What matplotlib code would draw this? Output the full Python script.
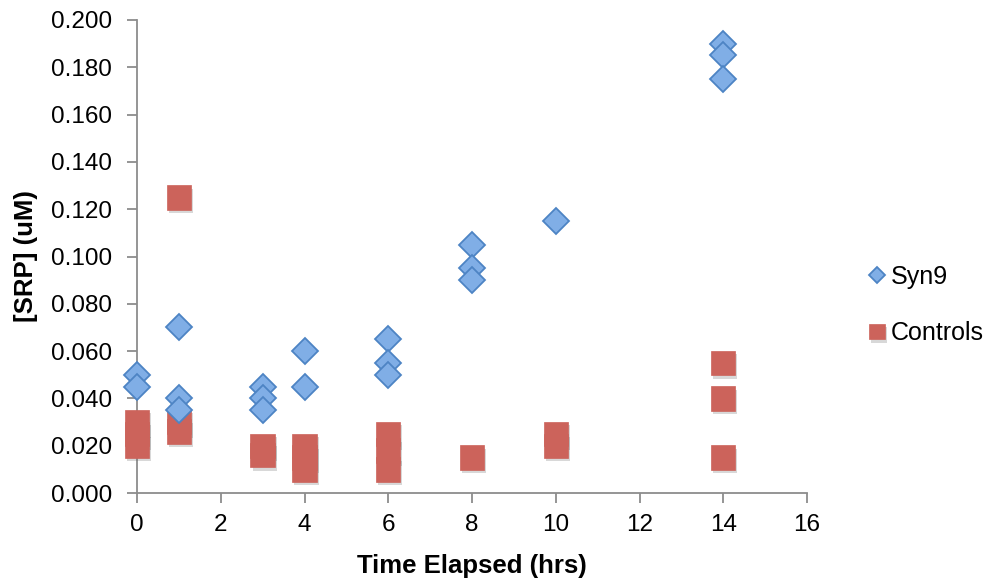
import matplotlib
matplotlib.use("Agg")
import matplotlib.pyplot as plt
import matplotlib.patheffects as pe
from matplotlib.ticker import FormatStrFormatter, MultipleLocator

plt.rcParams['font.family'] = ['Liberation Sans', 'DejaVu Sans']

# Syn9 measurements (time in hrs, SRP in uM)
syn9_time = [0, 0, 1, 1, 1, 3, 3, 3, 4, 4, 6, 6, 6, 8, 8, 8, 10, 14, 14, 14]
syn9_srp = [0.050, 0.045, 0.070, 0.040, 0.035, 0.045, 0.040, 0.035, 0.060, 0.045,
            0.065, 0.055, 0.050, 0.105, 0.095, 0.090, 0.115, 0.190, 0.185, 0.175]

# Control measurements
ctrl_time = [0, 0, 0, 1, 1, 1, 3, 3, 4, 4, 4, 6, 6, 6, 8, 10, 10, 14, 14, 14]
ctrl_srp = [0.030, 0.025, 0.020, 0.125, 0.030, 0.026, 0.020, 0.016, 0.020, 0.015, 0.010,
            0.025, 0.018, 0.010, 0.015, 0.025, 0.020, 0.055, 0.040, 0.015]

fig = plt.figure(figsize=(9.92, 5.84), dpi=100)
ax = fig.add_axes([137 / 992, 1 - 493 / 584, (807 - 137) / 992, (493 - 20) / 584])

shadow = [pe.SimplePatchShadow(offset=(1.5, -2.5), shadow_rgbFace='#666666', alpha=0.25), pe.Normal()]

ax.plot(ctrl_time, ctrl_srp, linestyle='none', marker='s', markersize=17.5,
        markerfacecolor='#CC635B', markeredgecolor='#CC635B', markeredgewidth=0.5,
        label='Controls', zorder=3, path_effects=shadow, clip_on=False)
ax.plot(syn9_time, syn9_srp, linestyle='none', marker='D', markersize=13.2,
        markerfacecolor='#80AEE6', markeredgecolor='#4D84C4', markeredgewidth=1.3,
        label='Syn9', zorder=4, clip_on=False)

ax.set_xlim(0, 16)
ax.set_ylim(0, 0.2)
ax.xaxis.set_major_locator(MultipleLocator(2))
ax.yaxis.set_major_locator(MultipleLocator(0.02))
ax.yaxis.set_major_formatter(FormatStrFormatter('%.3f'))

for side in ('top', 'right'):
    ax.spines[side].set_visible(False)
for side in ('left', 'bottom'):
    ax.spines[side].set_color('#8C8C8C')
    ax.spines[side].set_linewidth(1.3)
    ax.spines[side].set_zorder(2)
ax.tick_params(axis='both', direction='out', length=7, width=1.3, color='#8C8C8C',
               labelsize=17.5, labelcolor='black')
ax.tick_params(axis='x', pad=8)
ax.tick_params(axis='y', pad=11)

ax.set_xlabel('Time Elapsed (hrs)', fontsize=18.5, fontweight='bold', labelpad=13)
ax.set_ylabel('[SRP] (uM)', fontsize=18.5, fontweight='bold', labelpad=9)

handles, labels = ax.get_legend_handles_labels()
leg = fig.legend(handles[::-1], labels[::-1], loc='center left',
                 bbox_to_anchor=(842 / 992, 1 - 305 / 584),
                 frameon=False, fontsize=18, handletextpad=0.05, labelspacing=1.3,
                 handlelength=1.0, markerscale=0.65)

fig.savefig('out.png', dpi=100)
